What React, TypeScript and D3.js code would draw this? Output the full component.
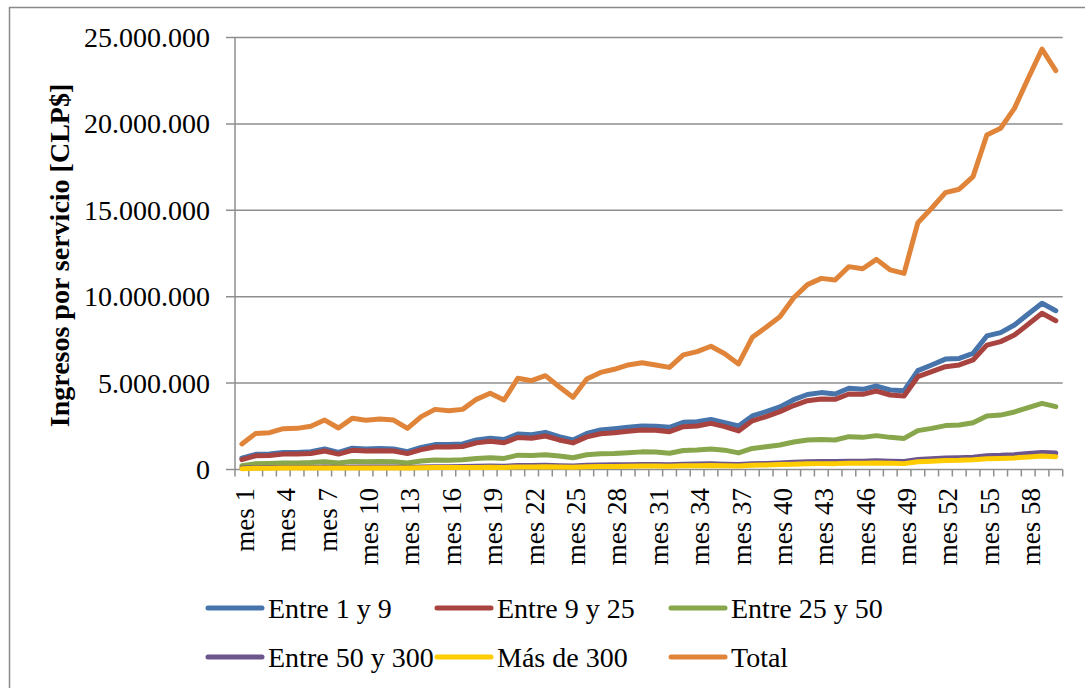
import React from "react";
import * as d3 from "d3";

// Ingresos mensuales por tramo de servicio, en millones de CLP
const meses: string[] = Array.from({ length: 60 }, (_, i) => `mes ${i + 1}`);

const entre1y9 = [
  0.66, 0.88, 0.90, 0.99, 0.99, 1.03, 1.19, 0.99, 1.23, 1.19,
  1.21, 1.19, 1.03, 1.28, 1.44, 1.44, 1.48, 1.71, 1.81, 1.73,
  2.05, 2.01, 2.15, 1.90, 1.71, 2.09, 2.29, 2.36, 2.44, 2.52,
  2.50, 2.44, 2.73, 2.77, 2.90, 2.71, 2.52, 3.10, 3.35, 3.62,
  4.04, 4.34, 4.45, 4.37, 4.70, 4.64, 4.83, 4.60, 4.56, 5.72,
  6.05, 6.39, 6.43, 6.72, 7.73, 7.92, 8.36, 9.00, 9.62, 9.19,
];
const entre9y25 = [
  0.57, 0.79, 0.81, 0.89, 0.89, 0.93, 1.07, 0.89, 1.11, 1.07,
  1.09, 1.07, 0.92, 1.15, 1.30, 1.30, 1.33, 1.54, 1.63, 1.55,
  1.85, 1.81, 1.94, 1.71, 1.54, 1.89, 2.07, 2.13, 2.21, 2.29,
  2.27, 2.19, 2.48, 2.52, 2.67, 2.48, 2.23, 2.82, 3.06, 3.35,
  3.70, 3.98, 4.08, 4.06, 4.37, 4.35, 4.54, 4.31, 4.25, 5.37,
  5.66, 5.95, 6.05, 6.34, 7.20, 7.40, 7.78, 8.40, 9.04, 8.61,
];
const entre25y50 = [
  0.22, 0.33, 0.35, 0.38, 0.38, 0.40, 0.45, 0.38, 0.47, 0.45,
  0.46, 0.45, 0.38, 0.49, 0.55, 0.54, 0.56, 0.64, 0.68, 0.64,
  0.83, 0.81, 0.86, 0.78, 0.68, 0.85, 0.91, 0.93, 0.97, 1.02,
  1.01, 0.94, 1.10, 1.13, 1.18, 1.12, 0.96, 1.22, 1.32, 1.42,
  1.59, 1.71, 1.73, 1.71, 1.90, 1.86, 1.96, 1.86, 1.80, 2.25,
  2.38, 2.54, 2.58, 2.71, 3.10, 3.15, 3.33, 3.58, 3.83, 3.64,
];
const entre50y300 = [
  0.08, 0.10, 0.11, 0.12, 0.12, 0.12, 0.14, 0.12, 0.14, 0.14,
  0.14, 0.14, 0.12, 0.15, 0.16, 0.16, 0.17, 0.19, 0.20, 0.19,
  0.23, 0.23, 0.24, 0.22, 0.20, 0.24, 0.26, 0.27, 0.28, 0.29,
  0.29, 0.28, 0.31, 0.32, 0.33, 0.31, 0.29, 0.33, 0.35, 0.38,
  0.42, 0.45, 0.46, 0.46, 0.48, 0.48, 0.50, 0.48, 0.47, 0.58,
  0.62, 0.66, 0.68, 0.71, 0.80, 0.82, 0.86, 0.92, 0.99, 0.95,
];
const masDe300 = [
  0.05, 0.07, 0.07, 0.08, 0.08, 0.08, 0.09, 0.08, 0.09, 0.09,
  0.09, 0.09, 0.08, 0.10, 0.11, 0.11, 0.11, 0.12, 0.13, 0.12,
  0.15, 0.15, 0.16, 0.14, 0.13, 0.16, 0.17, 0.18, 0.19, 0.20,
  0.20, 0.19, 0.21, 0.22, 0.23, 0.22, 0.20, 0.24, 0.26, 0.29,
  0.31, 0.33, 0.34, 0.34, 0.36, 0.36, 0.37, 0.36, 0.34, 0.45,
  0.48, 0.52, 0.53, 0.56, 0.62, 0.64, 0.67, 0.72, 0.78, 0.74,
];
const total = [
  1.48, 2.09, 2.13, 2.36, 2.38, 2.50, 2.86, 2.40, 2.96, 2.85,
  2.92, 2.86, 2.38, 3.06, 3.48, 3.40, 3.48, 4.06, 4.41, 4.02,
  5.28, 5.14, 5.43, 4.79, 4.18, 5.24, 5.62, 5.80, 6.05, 6.18,
  6.05, 5.91, 6.63, 6.82, 7.13, 6.70, 6.11, 7.65, 8.23, 8.84,
  9.94, 10.70, 11.06, 10.97, 11.74, 11.62, 12.16, 11.55, 11.35, 14.28,
  15.12, 16.02, 16.22, 16.95, 19.36, 19.75, 20.90, 22.64, 24.33, 23.08,
];

const seriesNames = ["Entre 1 y 9", "Entre 9 y 25", "Entre 25 y 50", "Entre 50 y 300", "Más de 300", "Total"];
const seriesValues = [entre1y9, entre9y25, entre25y50, entre50y300, masDe300, total];
const seriesColors = ["#4674AB", "#A8433F", "#88A64B", "#6C548D", "#FFCC00", "#E0843A"];

const yTicks = [0, 5000000, 10000000, 15000000, 20000000, 25000000];
const xLabelEvery = 3;

const W = 1085;
const H = 688;
const plot = { left: 235, right: 1062.7, top: 37.5, bottom: 469.5 };
const FONT = "'Liberation Serif', 'Times New Roman', serif";
const GRID = "#8E8E8E";

export default function App() {
  const x = d3.scaleBand<string>().domain(meses).range([plot.left, plot.right]).padding(0);
  const y = d3.scaleLinear().domain([0, 25000000]).range([plot.bottom, plot.top]);
  const fmt = (v: number) => d3.format(",")(v).replace(/,/g, ".");

  const line = d3
    .line<number>()
    .x((_, i) => (x(meses[i]) as number) + x.bandwidth() / 2)
    .y((v) => y(v * 1e6));

  const boundaries = d3.range(meses.length + 1).map((i) => plot.left + i * x.bandwidth());

  const legendCols = [208, 437, 671];
  const legendRows = [608, 657];

  return (
    <svg
      width={W}
      height={H}
      style={{ position: "absolute", left: 0, top: 0, background: "#fff" }}
      fontFamily={FONT}
    >
      <rect x={9.5} y={7.5} width={1200} height={800} fill="#fff" stroke="#8A8A8A" strokeWidth={1.5} />

      {/* horizontal gridlines with left tick stubs */}
      {yTicks.map((t) => (
        <line key={t} x1={226} x2={plot.right} y1={y(t)} y2={y(t)} stroke={GRID} strokeWidth={1.5} />
      ))}
      {yTicks.map((t) => (
        <text key={"l" + t} x={210} y={y(t)} textAnchor="end" dominantBaseline="central" fontSize={28} fill="#000">
          {fmt(t)}
        </text>
      ))}

      {/* axes */}
      <line x1={plot.left} x2={plot.left} y1={plot.top} y2={plot.bottom} stroke={GRID} strokeWidth={1.5} />
      {boundaries.map((bx, i) => (
        <line key={"t" + i} x1={bx} x2={bx} y1={plot.bottom} y2={plot.bottom + 7} stroke={GRID} strokeWidth={1.5} />
      ))}

      {meses.map((m, i) =>
        i % xLabelEvery === 0 ? (
          <text
            key={m}
            transform={`translate(${(x(m) as number) + x.bandwidth() / 2 + 3},${488}) rotate(-90)`}
            textAnchor="end"
            dominantBaseline="central"
            fontSize={27}
            fill="#000"
          >
            {m}
          </text>
        ) : null
      )}

      <text
        transform={`translate(59,255.5) rotate(-90)`}
        textAnchor="middle"
        dominantBaseline="central"
        fontSize={28}
        fontWeight="bold"
        fill="#000"
      >
        Ingresos por servicio [CLP$]
      </text>

      {/* series */}
      {seriesValues.map((vals, s) => (
        <path
          key={seriesNames[s]}
          d={line(vals) || ""}
          fill="none"
          stroke={seriesColors[s]}
          strokeWidth={5}
          strokeLinejoin="round"
          strokeLinecap="round"
        />
      ))}

      {/* legend */}
      {seriesNames.map((name, s) => {
        const lx = legendCols[s % 3];
        const ly = legendRows[Math.floor(s / 3)];
        return (
          <g key={"lg" + name}>
            <line x1={lx} x2={lx + 54} y1={ly} y2={ly} stroke={seriesColors[s]} strokeWidth={5} strokeLinecap="round" />
            <text x={lx + 60} y={ly} dominantBaseline="central" fontSize={28} fill="#000">
              {name}
            </text>
          </g>
        );
      })}
    </svg>
  );
}
